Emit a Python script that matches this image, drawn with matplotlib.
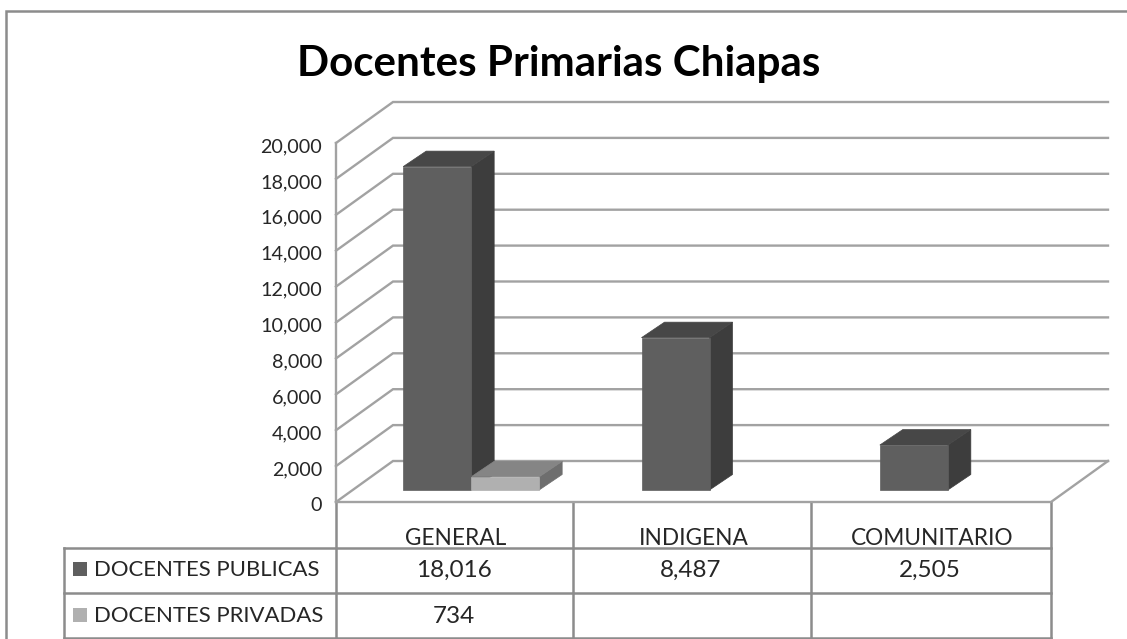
import matplotlib
matplotlib.use('Agg')
import matplotlib.pyplot as plt
from matplotlib.patches import Polygon, Rectangle
from matplotlib.ticker import FuncFormatter
from matplotlib.transforms import ScaledTranslation

# === datos ===
categorias = ['GENERAL', 'INDIGENA', 'COMUNITARIO']
docentes_publicas = [18016, 8487, 2505]
docentes_privadas = [734, None, None]
y_ticks = list(range(0, 20001, 2000))
titulo = 'Docentes Primarias Chiapas'
serie_pub = 'DOCENTES PUBLICAS'
serie_priv = 'DOCENTES PRIVADAS'

W, H = 1127, 639
GRID = '#a2a2a2'
LINE = '#8c8c8c'
TXT = '#262626'
FONT = 'Lato'

plt.rcParams['font.family'] = [FONT, 'DejaVu Sans']

fig = plt.figure(figsize=(W / 100, H / 100), dpi=100, facecolor='white')

# capa en pixeles para marco y tabla
bg = fig.add_axes([0, 0, 1, 1])
bg.set_xlim(0, W)
bg.set_ylim(H, 0)
bg.axis('off')

# ejes del plano frontal: x 336-1051, y 502-143
x0, x1, y0, y1 = 336, 1051, 502, 143
ax = fig.add_axes([x0 / W, 1 - y0 / H, (x1 - x0) / W, (y0 - y1) / H])
ax.patch.set_alpha(0)
ax.set_xlim(0, 3)
ax.set_ylim(0, 20000)
for s in ax.spines.values():
    s.set_visible(False)

px = 3 / (x1 - x0)
py = 20000 / (y0 - y1)
dx_wall, dy_wall = 57 * px, 41 * py
dx_bar, dy_bar = 23 * px, 15.5 * py
dx_base, dy_base = 16 * px, 12 * py
ancho = 68 * px


# --- paredes y rejilla ---
for v in y_ticks:
    ax.plot([0, dx_wall, 3 + dx_wall], [v, v + dy_wall, v + dy_wall],
            color=GRID, lw=1.7, clip_on=False, zorder=1, solid_joinstyle='miter')
ax.plot([0, 0], [0, 20000], color=GRID, lw=1.7, clip_on=False, zorder=1)
ax.plot([0, 3, 3 + dx_wall], [0, 0, dy_wall], color=GRID, lw=1.7, clip_on=False, zorder=1)


def barra(x, v, c_front, c_top, c_side):
    xl, xr = x + dx_base, x + dx_base + ancho
    yb, yt = dy_base, dy_base + v
    ax.add_patch(Polygon([(xr, yb), (xr + dx_bar, yb + dy_bar), (xr + dx_bar, yt + dy_bar), (xr, yt)],
                         fc=c_side, ec=c_side, lw=0.5, clip_on=False, zorder=3))
    ax.add_patch(Polygon([(xl, yt), (xr, yt), (xr + dx_bar, yt + dy_bar), (xl + dx_bar, yt + dy_bar)],
                         fc=c_top, ec=c_top, lw=0.5, clip_on=False, zorder=3))
    ax.add_patch(Rectangle((xl, yb), ancho, v, fc=c_front, ec=c_front, lw=0.5, clip_on=False, zorder=4))


for i, v in enumerate(docentes_publicas):
    barra(i + 0.5 - ancho, v, '#5f5f5f', '#474747', '#3d3d3d')
for i, v in enumerate(docentes_privadas):
    if v is not None:
        barra(i + 0.5, v, '#b0b0b0', '#858585', '#6e6e6e')

ax.set_yticks(y_ticks)
ax.yaxis.set_major_formatter(FuncFormatter(lambda v, pos: f'{int(v):,}'))
ax.tick_params(axis='y', length=0, pad=10, labelsize=14.2, labelcolor=TXT)
# las etiquetas van un poco mas abajo que la linea
bajar = ScaledTranslation(0, -2 / 100, fig.dpi_scale_trans)
for lab in ax.get_yticklabels():
    lab.set_transform(lab.get_transform() + bajar)
ax.set_xticks([i + 0.5 for i in range(3)])
ax.set_xticklabels(categorias)
ax.tick_params(axis='x', length=0, pad=18.5, labelsize=16.3, labelcolor=TXT)

# --- titulo ---
bg.text(559, 64, titulo, ha='center', va='center', fontsize=30.3, fontweight='bold', color='black')

# --- marco (solo arriba e izquierda) ---
bg.plot([6, 6, W], [H, 11, 11], color=LINE, lw=1.8, solid_joinstyle='miter')

# --- tabla ---
tx = [64, 336, 573, 811, 1051]
ty = [502, 548, 593, 637.5]
for yy in ty[1:]:
    bg.plot([tx[0], tx[-1]], [yy, yy], color=LINE, lw=1.8, zorder=2)
bg.plot([tx[0], tx[0]], [ty[1], ty[3]], color=LINE, lw=1.8, zorder=2)
for xx in tx[1:]:
    bg.plot([xx, xx], [ty[0], ty[3]], color=LINE, lw=1.8, zorder=2)

filas = [(serie_pub, docentes_publicas, '#5f5f5f', 569), (serie_priv, docentes_privadas, '#b0b0b0', 615)]
for nombre, vals, col, yy in filas:
    bg.add_patch(Rectangle((73, yy - 7), 14, 14, fc=col, ec='none'))
    bg.text(94, yy + 0.5, nombre, ha='left', va='center', fontsize=15.9, color=TXT)
    for j, v in enumerate(vals):
        if v is not None:
            bg.text((tx[j + 1] + tx[j + 2]) / 2 - 1, yy + 1.5, f'{v:,}', ha='center', va='center',
                    fontsize=17.5, color=TXT)

fig.savefig('out.png', dpi=100)
plt.close(fig)
